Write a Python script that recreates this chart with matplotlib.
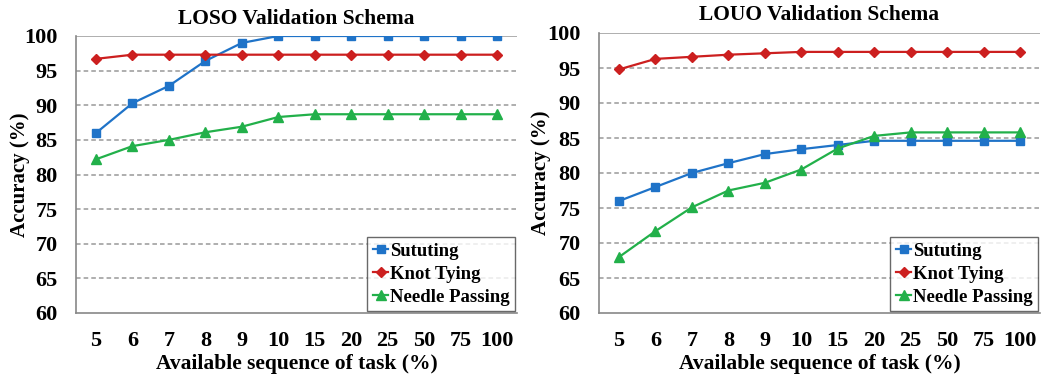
import matplotlib
matplotlib.use("Agg")
import matplotlib.pyplot as plt

x_labels = ["5", "6", "7", "8", "9", "10", "15", "20", "25", "50", "75", "100"]

loso_suturing = [86.0, 90.3, 92.8, 96.4, 99.0, 100, 100, 100, 100, 100, 100, 100]
loso_knot = [96.7, 97.3, 97.3, 97.3, 97.3, 97.3, 97.3, 97.3, 97.3, 97.3, 97.3, 97.3]
loso_needle = [82.2, 84.1, 85.0, 86.1, 86.9, 88.3, 88.7, 88.7, 88.7, 88.7, 88.7, 88.7]

louo_suturing = [76.0, 78.0, 80.0, 81.4, 82.7, 83.4, 84.0, 84.6, 84.6, 84.6, 84.6, 84.6]
louo_knot = [94.8, 96.3, 96.6, 96.9, 97.1, 97.3, 97.3, 97.3, 97.3, 97.3, 97.3, 97.3]
louo_needle = [68.0, 71.7, 75.1, 77.5, 78.6, 80.5, 83.5, 85.3, 85.8, 85.8, 85.8, 85.8]

titles = ["LOSO Validation Schema", "LOUO Validation Schema"]
y_ticks = [60, 65, 70, 75, 80, 85, 90, 95, 100]

plt.rcParams['font.family'] = ['Liberation Serif', 'DejaVu Serif']
plt.rcParams['font.weight'] = 'bold'

fig = plt.figure(figsize=(10.47, 3.83), dpi=100)
W, H = 1047, 383
axes_px = [(76, 36, 517, 313), (599, 33, 1040, 313)]
ylabel_x = [-0.104, -0.109]

data = [(loso_suturing, loso_knot, loso_needle), (louo_suturing, louo_knot, louo_needle)]
colors = ["#1f73c8", "#cc1f1f", "#22b04a"]
markers = ["s", "D", "^"]
msizes = [6, 5, 7]
names = ["Sututing", "Knot Tying", "Needle Passing"]

for i, (l, t, r, b) in enumerate(axes_px):
    ax = fig.add_axes([l / W, 1 - b / H, (r - l) / W, (b - t) / H])
    xs = list(range(len(x_labels)))
    for s, c, m, ms, n in zip(data[i], colors, markers, msizes, names):
        ax.plot(xs, s, color=c, marker=m, markersize=ms, linewidth=1.6, label=n, zorder=3)
    ax.set_ylim(60, 100)
    ax.set_xlim(-0.55, len(x_labels) - 0.45)
    ax.set_yticks(y_ticks)
    ax.set_yticklabels([str(v) for v in y_ticks], fontsize=16, fontweight='bold')
    ax.set_xticks(xs)
    ax.set_xticklabels(x_labels, fontsize=16, fontweight='bold')
    ax.tick_params(axis='both', length=0)
    ax.tick_params(axis='y', pad=13)
    ax.tick_params(axis='x', pad=13)
    for yv in y_ticks[1:-1]:
        ax.axhline(yv, color='#999999', linestyle=(0, (3, 2)), linewidth=1.1, zorder=1)
    ax.axhline(100, color='#999999', linewidth=1.1, zorder=1)
    for sp in ['top', 'right']:
        ax.spines[sp].set_visible(False)
    for sp in ['left', 'bottom']:
        ax.spines[sp].set_color('#888888')
        ax.spines[sp].set_linewidth(1.2)
    ax.set_title(titles[i], fontsize=15.5, fontweight='bold', pad=9)
    ax.set_xlabel("Available sequence of task (%)", fontsize=15.5, fontweight='bold', labelpad=2)
    ax.set_ylabel("Accuracy (%)", fontsize=15, fontweight='bold')
    ax.yaxis.set_label_coords(ylabel_x[i], 0.5)
    leg = ax.legend(loc='lower right', frameon=True, fancybox=False,
                    handlelength=0.8, handletextpad=0.1, borderpad=0.3, labelspacing=0.3,
                    borderaxespad=0.1, prop={'weight': 'bold', 'size': 13.5})
    leg.get_frame().set_edgecolor('#444444')
    leg.get_frame().set_linewidth(1.0)

fig.savefig("out.png", dpi=100)
